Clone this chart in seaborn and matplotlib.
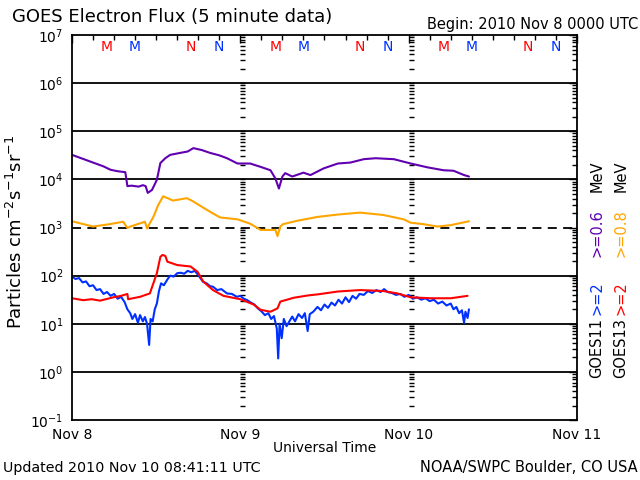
"""GOES electron flux plot (5 minute data), Nov 8-11 2010."""

import matplotlib
matplotlib.use("Agg")

import matplotlib.dates as mdates
import matplotlib.pyplot as plt
import matplotlib.ticker as mticker
import numpy as np
import pandas as pd
import seaborn as sns

START = pd.Timestamp("2010-11-08 00:00")
END = pd.Timestamp("2010-11-11 00:00")

# hours since start, log10 flux
g11_06_hours = [0, 1.5, 3, 4.5, 5.5, 6.5, 7.6, 7.9, 8.5, 9.5, 10.1, 10.5, 10.8, 11.4,
                12.1, 12.6, 13.3, 14, 15.4, 16.5, 17.3, 18.5, 19.7, 21, 22.1, 23.6,
                25.4, 26.9, 28.3, 29, 29.5, 30, 30.4, 31.4, 33, 34, 35.9, 37.9, 39.7,
                41.6, 43.3, 45.9, 48.3, 50.7, 53, 54.4, 55.9, 56.6]
g11_06_log = [4.51, 4.43, 4.35, 4.27, 4.20, 4.17, 4.15, 3.86, 3.87, 3.85, 3.88, 3.86,
              3.72, 3.78, 3.99, 4.34, 4.44, 4.51, 4.55, 4.58, 4.65, 4.61, 4.55, 4.50,
              4.44, 4.33, 4.33, 4.26, 4.19, 4.02, 3.81, 4.06, 4.13, 4.06, 4.14, 4.09,
              4.23, 4.33, 4.35, 4.42, 4.44, 4.42, 4.33, 4.25, 4.19, 4.18, 4.09, 4.06]

g13_08_hours = [0, 1.1, 3, 5.4, 7.3, 7.9, 8.3, 10.4, 10.7, 11.1, 11.6, 12.3, 13, 14.4,
                16.4, 17.3, 19.3, 21.1, 23.6, 25.4, 26.9, 27.9, 29, 29.3, 29.7, 30.1,
                32.1, 35, 37.9, 41.1, 44.4, 47.3, 48.3, 50.1, 52.1, 54, 56.6]
g13_08_log = [3.13, 3.09, 3.02, 3.07, 3.12, 2.99, 3.02, 3.12, 2.98, 3.09, 3.22, 3.47,
              3.65, 3.56, 3.61, 3.54, 3.36, 3.21, 3.17, 3.08, 2.95, 2.95, 2.95, 2.82,
              3.02, 3.07, 3.14, 3.22, 3.27, 3.31, 3.26, 3.17, 3.10, 3.07, 3.02, 3.05, 3.13]

g13_2_hours = [0, 1.6, 2.8, 4, 5.9, 7.0, 7.9, 8, 9.7, 11.1, 11.6, 12.1, 12.6, 12.9, 13.3,
               13.6, 15, 16.9, 17.9, 18.7, 20.1, 21.6, 24, 25.9, 26.9, 28.3, 29.3, 29.7,
               31.6, 33.7, 35, 37.9, 41.1, 44.4, 46.4, 48.3, 51.1, 54, 56.4]
g13_2_log = [1.53, 1.49, 1.51, 1.48, 1.55, 1.58, 1.62, 1.51, 1.56, 1.63, 1.84, 2.05,
             2.39, 2.43, 2.41, 2.29, 2.22, 2.19, 2.08, 1.88, 1.70, 1.58, 1.51, 1.40,
             1.29, 1.25, 1.32, 1.46, 1.54, 1.59, 1.61, 1.67, 1.70, 1.68, 1.63, 1.55,
             1.53, 1.53, 1.58]

g11_2_hours = [0, 0.5, 1, 1.5, 2, 2.5, 3, 3.5, 4, 4.5, 5, 5.5, 6, 6.5, 7, 7.5, 7.9,
               8.3, 8.6, 9, 9.4, 9.7, 10.1, 10.4, 10.7, 11, 11.2, 11.5, 11.8, 12.1,
               12.4, 12.7, 13.1, 13.6, 14, 14.5, 15, 15.5, 16, 16.5, 17, 17.5, 17.9,
               18.3, 18.7, 19.2, 19.7, 20.1, 20.7, 21.3, 22.1, 22.8, 23.5, 24, 24.5,
               25, 25.5, 26, 26.5, 27, 27.5, 28, 28.4, 28.8, 29.2, 29.4, 29.6, 29.9,
               30.2, 30.6, 31, 31.4, 31.8, 32.3, 32.8, 33.2, 33.6, 33.9, 34.4, 35,
               35.5, 36, 36.5, 37, 37.5, 38, 38.5, 39, 39.5, 40, 40.5, 41, 41.6, 42.2,
               42.8, 43.4, 44, 44.5, 45, 45.6, 46.2, 46.8, 47.4, 48, 48.6, 49.2, 49.8,
               50.4, 51, 51.6, 52.2, 52.8, 53.4, 54, 54.4, 54.8, 55.2, 55.6, 55.9,
               56.1, 56.4, 56.6]
g11_2_log = [1.98, 1.93, 1.95, 1.86, 1.88, 1.78, 1.80, 1.70, 1.72, 1.62, 1.66, 1.58,
             1.62, 1.52, 1.56, 1.45, 1.30, 1.22, 1.10, 1.20, 1.02, 1.18, 1.05, 1.14,
             1.00, 0.56, 1.10, 1.05, 1.30, 1.42, 1.68, 1.84, 1.80, 1.92, 2.00, 1.98,
             2.05, 2.06, 2.04, 2.10, 2.07, 2.10, 2.03, 1.95, 1.87, 1.84, 1.78, 1.77,
             1.70, 1.72, 1.63, 1.62, 1.56, 1.58, 1.52, 1.49, 1.44, 1.40, 1.32, 1.26,
             1.18, 1.22, 1.10, 1.16, 0.90, 0.28, 1.00, 0.70, 1.10, 0.95, 1.05, 1.15,
             1.05, 1.20, 1.12, 1.22, 0.85, 1.20, 1.25, 1.35, 1.28, 1.40, 1.33, 1.44,
             1.38, 1.50, 1.42, 1.55, 1.45, 1.58, 1.52, 1.62, 1.60, 1.68, 1.64, 1.70,
             1.66, 1.72, 1.66, 1.64, 1.60, 1.62, 1.56, 1.60, 1.52, 1.55, 1.50, 1.53,
             1.47, 1.50, 1.42, 1.46, 1.38, 1.42, 1.30, 1.35, 1.22, 1.28, 1.02, 1.25,
             1.12, 1.30]

# local midnight (M) / noon (N) markers, hours UT
mn_hours_g13 = [5, 17]
mn_hours_g11 = [9, 21]
mn_labels = ["M", "N"]

COLORS = {"g11_06": "#6000b0", "g13_08": "#ffa500", "g11_2": "#0030ff", "g13_2": "#ff0000"}

sns.set_theme(style="white")
plt.rcParams.update({"font.family": "DejaVu Sans", "axes.edgecolor": "black",
                     "axes.linewidth": 1.3, "xtick.color": "black", "ytick.color": "black",
                     "text.color": "black", "axes.labelcolor": "black"})


def _frame(name, hours, logv):
    return pd.DataFrame({
        "time": START + pd.to_timedelta(hours, unit="h"),
        "flux": np.power(10.0, logv),
        "series": name,
    })


df = pd.concat([
    _frame("g11_06", g11_06_hours, g11_06_log),
    _frame("g13_08", g13_08_hours, g13_08_log),
    _frame("g11_2", g11_2_hours, g11_2_log),
    _frame("g13_2", g13_2_hours, g13_2_log),
], ignore_index=True)

fig = plt.figure(figsize=(6.4, 4.8), dpi=100)
ax = fig.add_axes([0.1125, 0.125, 0.789, 0.802])

sns.lineplot(data=df, x="time", y="flux", hue="series", palette=COLORS,
             estimator=None, sort=False, lw=1.5, legend=False, ax=ax)

ax.set_yscale("log")
ax.set_ylim(1e-1, 1e7)
ax.set_xlim(START, END)

# horizontal decade lines, 10^3 dashed
for d in range(0, 7):
    ls = (0, (5, 3.5)) if d == 3 else "-"
    ax.axhline(10.0 ** d, color="black", lw=1.3, ls=ls, zorder=1)

ax.yaxis.set_major_locator(mticker.LogLocator(base=10, numticks=20))
ax.yaxis.set_minor_locator(mticker.LogLocator(base=10, subs=np.arange(2, 10), numticks=20))
ax.yaxis.set_major_formatter(mticker.LogFormatterSciNotation())
ax.yaxis.set_minor_formatter(mticker.NullFormatter())

ax.xaxis.set_major_locator(mdates.DayLocator())
ax.xaxis.set_minor_locator(mdates.HourLocator(byhour=range(0, 24, 3)))
ax.xaxis.set_major_formatter(mdates.DateFormatter("%b %-d"))

ax.tick_params(which="both", direction="in", top=True, right=True, labelsize=10, pad=6)
ax.tick_params(which="major", length=6, width=1)
ax.tick_params(which="minor", length=3.5, width=1)
ax.xaxis.label.set_visible(False)
ax.yaxis.label.set_visible(False)

# inner ticks on the day boundaries
ytk = [k * 10.0 ** d for d in range(-1, 7) for k in range(1, 10)] + [1e7]
for day in [1, 2]:
    x0 = mdates.date2num(START + pd.Timedelta(days=day))
    ax.hlines(ytk, x0, x0 + 0.03, color="black", lw=1, zorder=1)

# M / N local time markers
trans = ax.get_xaxis_transform()
for day in range(3):
    for hrs, col in [(mn_hours_g13, "#ff0000"), (mn_hours_g11, "#0030ff")]:
        for h, lab in zip(hrs, mn_labels):
            t = START + pd.Timedelta(days=day, hours=h)
            ax.text(mdates.date2num(t), 0.969, lab, color=col, transform=trans,
                    ha="center", va="center", fontsize=10)

fig.text(0.019, 0.965, "GOES Electron Flux (5 minute data)", fontsize=13, va="center")
fig.text(0.997, 0.95, "Begin: 2010 Nov 8 0000 UTC", fontsize=10.5, va="center", ha="right")
fig.text(0.025, 0.517, "Particles cm$^{-2}$s$^{-1}$sr$^{-1}$", rotation=90,
         fontsize=13, va="center", ha="center")
fig.text(0.507, 0.067, "Universal Time", fontsize=10, ha="center", va="center")
fig.text(0.004, 0.026, "Updated 2010 Nov 10 08:41:11 UTC", fontsize=10.3, va="center")
fig.text(0.997, 0.026, "NOAA/SWPC Boulder, CO USA", fontsize=10.5, va="center", ha="right")

# right side rotated legend
legend_cols = [
    (0.933, ["GOES11", ">=2", ">=0.6", "MeV"], ["black", COLORS["g11_2"], COLORS["g11_06"], "black"]),
    (0.970, ["GOES13", ">=2", ">=0.8", "MeV"], ["black", COLORS["g13_2"], COLORS["g13_08"], "black"]),
]
piece_y = [0.2125, 0.344, 0.465, 0.60]
for x, texts, cols in legend_cols:
    for y, s, c in zip(piece_y, texts, cols):
        fig.text(x, y, s, rotation=90, color=c, fontsize=10.5, ha="center", va="bottom")

fig.savefig("out.png", dpi=100)
